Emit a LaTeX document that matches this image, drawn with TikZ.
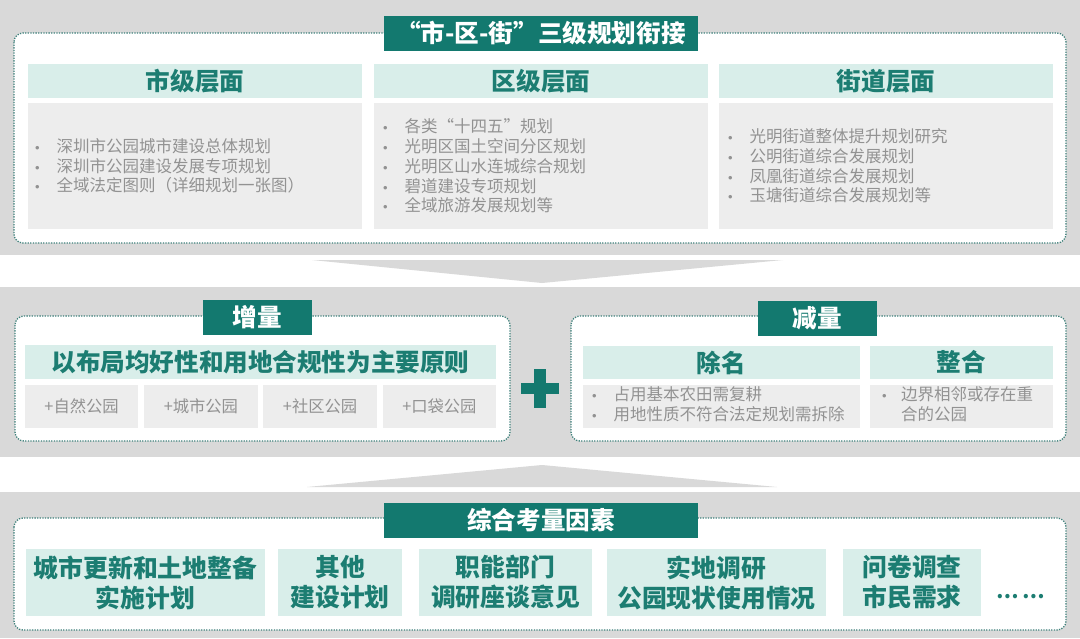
\documentclass[tikz,border=0pt]{standalone}
\usepackage{fontspec}
\setmainfont{Noto Sans CJK SC}
\newfontfamily\bulfont{Liberation Sans}
\definecolor{bandgray}{HTML}{D9D9D9}
\definecolor{tealfill}{HTML}{13796F}
\definecolor{hdrteal}{HTML}{1C7D72}
\definecolor{lteal}{HTML}{D9EEEA}
\definecolor{cgray}{HTML}{EDEDED}
\definecolor{gtext}{HTML}{929292}
\definecolor{dotc}{HTML}{3F817B}
\newcommand\lbul{\makebox[21.5pt][l]{{\bulfont\fontsize{13}{13}\selectfont•}}}
\tikzset{
  panel/.style={draw=dotc, dash pattern=on 1.3pt off 1.3pt, line width=1.3pt, fill=white, rounded corners=9pt},
  ttl/.style={fill=tealfill, text=white, font=\bfseries\fontsize{24.6}{28}\selectfont, inner sep=0pt},
  hdr/.style={fill=lteal, text=hdrteal, font=\bfseries\fontsize{24.6}{28}\selectfont, inner sep=0pt},
  cbox/.style={fill=cgray, inner sep=0pt},
  lst/.style={text=gtext, font=\fontsize{16.5}{19.7}\selectfont, align=left, anchor=west, inner sep=0pt},
  sml/.style={fill=cgray, text=gtext, font=\fontsize{16.3}{19}\selectfont, inner sep=0pt},
  fbox/.style={fill=lteal, text=hdrteal, font=\bfseries\fontsize{24.8}{30}\selectfont, align=center, inner sep=0pt, minimum height=67pt},
}
\begin{document}
\begin{tikzpicture}[x=1pt,y=-1pt]
\useasboundingbox (0,0) rectangle (1080,638);
\fill[white] (0,0) rectangle (1080,638);
% bands
\fill[bandgray] (0,0) rectangle (1080,255);
\fill[bandgray] (0,287) rectangle (1080,457);
\fill[bandgray] (0,492) rectangle (1080,638);
% chevrons
\fill[bandgray] (312,260) -- (783,260) -- (542,283) -- cycle;
\fill[bandgray] (307,487) -- (777,487) -- (542,465) -- cycle;

% ===== top panel =====
\draw[panel] (14,33) rectangle (1066,243);
\node[ttl, minimum width=314pt, minimum height=35pt] (t1) at (541,33.5) {“市-区-街”三级规划衔接};
\node[hdr, minimum width=334pt, minimum height=34pt] (h1) at (195,81) {市级层面};
\node[hdr, minimum width=334pt, minimum height=34pt] (h2) at (541,81) {区级层面};
\node[hdr, minimum width=334pt, minimum height=34pt] (h3) at (886,81) {街道层面};
\node[cbox, minimum width=334pt, minimum height=126pt] (c1) at (195,166) {};
\node[cbox, minimum width=334pt, minimum height=126pt] (c2) at (541,166) {};
\node[cbox, minimum width=334pt, minimum height=126pt] (c3) at (886,166) {};
\node[lst] (l1) at (35,166) {\lbul 深圳市公园城市建设总体规划\\\lbul 深圳市公园建设发展专项规划\\\lbul 全域法定图则（详细规划一张图）};
\node[lst] (l2) at (383,166) {\lbul 各类“十四五”规划\\\lbul 光明区国土空间分区规划\\\lbul 光明区山水连城综合规划\\\lbul 碧道建设专项规划\\\lbul 全域旅游发展规划等};
\node[lst] (l3) at (728,166) {\lbul 光明街道整体提升规划研究\\\lbul 公明街道综合发展规划\\\lbul 凤凰街道综合发展规划\\\lbul 玉塘街道综合发展规划等};

% ===== middle: increase =====
\draw[panel] (15,316) rectangle (510,441);
\node[ttl, minimum width=109pt, minimum height=35pt] (t2) at (257.5,317.5) {增量};
\node[hdr, minimum width=471pt, minimum height=34pt] (h4) at (260.5,362) {以布局均好性和用地合规性为主要原则};
\node[sml, minimum width=113.25pt, minimum height=43pt] (s1) at (81.6,406.5) {+自然公园};
\node[sml, minimum width=113.25pt, minimum height=43pt] (s2) at (200.9,406.5) {+城市公园};
\node[sml, minimum width=113.25pt, minimum height=43pt] (s3) at (320.1,406.5) {+社区公园};
\node[sml, minimum width=113.25pt, minimum height=43pt] (s4) at (439.4,406.5) {+口袋公园};

% plus sign
\fill[tealfill] (521,382.5) rectangle (559,393.5);
\fill[tealfill] (534,368.5) rectangle (546,407.5);

% ===== middle: decrease =====
\draw[panel] (571,316) rectangle (1066,441);
\node[ttl, minimum width=119pt, minimum height=35pt] (t3) at (817.5,318.5) {减量};
\node[hdr, minimum width=277pt, minimum height=33pt] (h5) at (721.5,362.5) {除名};
\node[hdr, minimum width=183pt, minimum height=33pt] (h6) at (961.5,362.5) {整合};
\node[cbox, minimum width=277pt, minimum height=43pt] (c5) at (721.5,406.5) {};
\node[cbox, minimum width=183pt, minimum height=43pt] (c6) at (961.5,406.5) {};
\node[lst] (l5) at (592,404) {\lbul 占用基本农田需复耕\\\lbul 用地性质不符合法定规划需拆除};
\node[lst] (l6) at (882,404) {\makebox[19pt][l]{{\bulfont\fontsize{13}{13}\selectfont•}}边界相邻或存在重\\\hspace*{19pt}合的公园};

% ===== bottom =====
\draw[panel] (14,518) rectangle (1066,630);
\node[ttl, minimum width=314pt, minimum height=35pt] (t4) at (541,520.5) {综合考量因素};
\node[fbox, minimum width=239pt] (b1) at (145.5,582.5) {城市更新和土地整备\\实施计划};
\node[fbox, minimum width=124pt] (b2) at (340,582.5) {其他\\建设计划};
\node[fbox, minimum width=173pt] (b3) at (505.5,582.5) {职能部门\\调研座谈意见};
\node[fbox, minimum width=219pt] (b4) at (716.5,582.5) {实地调研\\公园现状使用情况};
\node[fbox, minimum width=138pt] (b5) at (912,582.5) {问卷调查\\市民需求};
\node[text=hdrteal, font=\bfseries\fontsize{20}{24}\selectfont, inner sep=0pt] (dots) at (1021,597) {…\,…};
\end{tikzpicture}
\end{document}
